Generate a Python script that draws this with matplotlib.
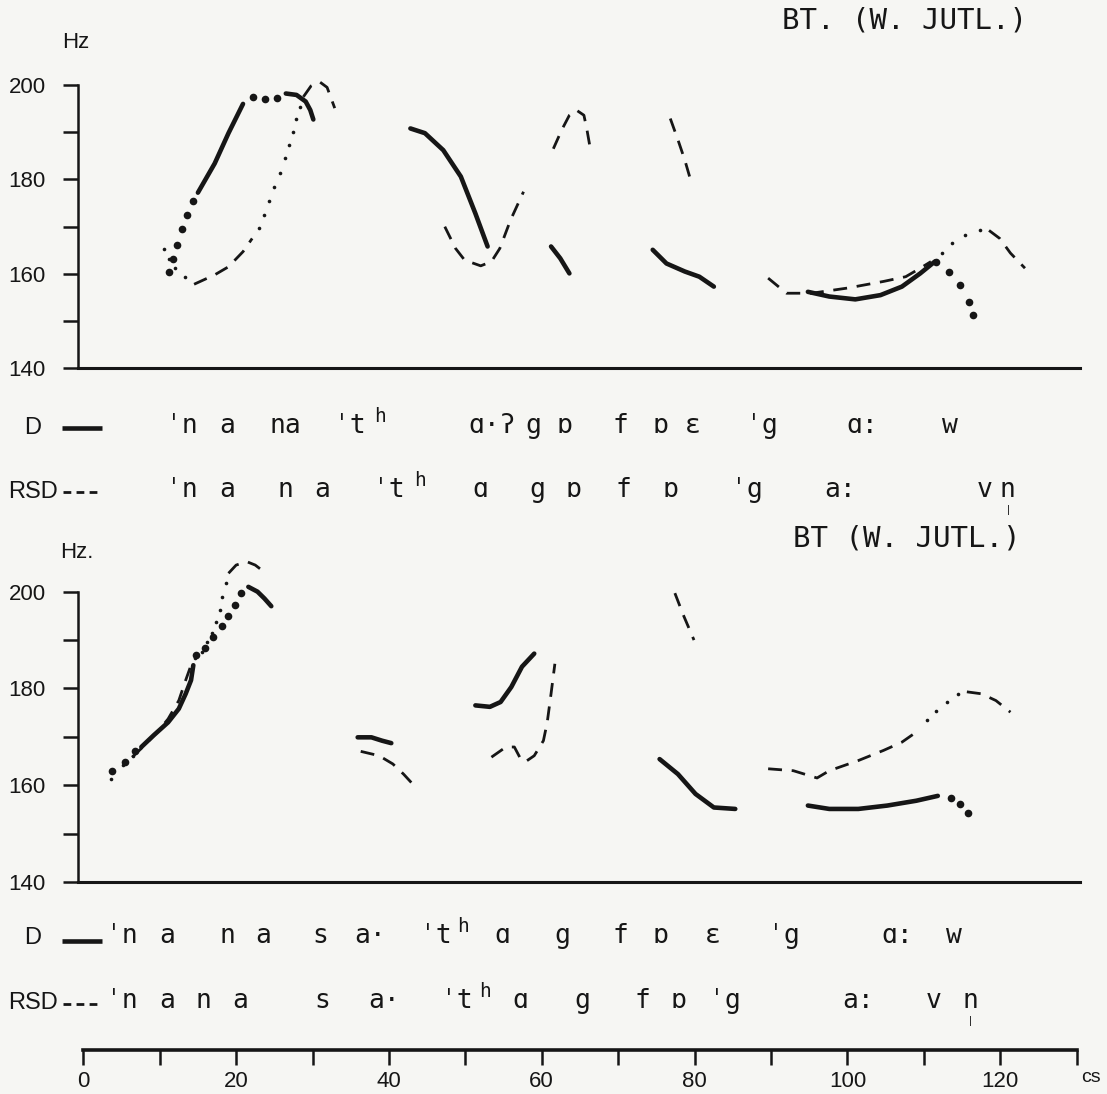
import matplotlib
matplotlib.use('Agg')
import matplotlib.pyplot as plt
from matplotlib.ticker import FixedLocator, FixedFormatter

plt.rcParams['font.family'] = ['Liberation Sans', 'DejaVu Sans']

# ---- F0 tracings, time in cs, F0 in Hz ----
# upper panel
up_d_solid = [
    ([15.0, 17.2, 19.0, 20.9], [177.2, 183.4, 189.8, 196.0]),
    ([26.5, 27.9, 29.1, 29.7, 30.1], [198.2, 197.9, 196.5, 194.7, 192.7]),
    ([42.8, 44.7, 47.1, 49.4, 51.3, 52.9], [190.8, 189.8, 186.2, 180.6, 172.8, 165.8]),
    ([61.2, 62.4, 63.6], [165.8, 163.3, 160.1]),
    ([74.5, 76.3, 78.7, 80.6, 82.5], [165.1, 162.2, 160.5, 159.4, 157.3]),
    ([94.8, 97.6, 101.0, 104.3, 107.1, 109.5, 111.4], [156.2, 155.2, 154.6, 155.5, 157.3, 160.1, 162.6]),
]
up_d_dots = [
    ([11.2, 11.8, 12.3, 12.9, 13.6, 14.4], [160.3, 163.2, 166.1, 169.6, 172.4, 175.4]),
    ([22.2, 23.8, 25.3], [197.4, 197.0, 197.3]),
    ([111.6, 113.3, 114.7, 115.9, 116.4], [162.6, 160.5, 157.7, 154.1, 151.3]),
]
up_r_dash = [
    ([14.5, 17.2, 19.0, 20.9, 22.1], [157.8, 159.8, 161.5, 164.7, 167.5]),
    ([28.8, 29.8, 30.9, 31.9, 32.9], [197.5, 199.8, 200.7, 199.5, 195.1]),
    ([47.3, 48.7, 49.9, 52.0, 53.4, 54.5, 55.9, 57.6], [170.0, 165.4, 162.9, 161.7, 162.6, 165.4, 171.4, 177.4]),
    ([61.5, 62.6, 63.6, 64.5, 65.5, 65.9, 66.4], [186.5, 190.5, 193.6, 194.7, 193.6, 190.5, 185.9]),
    ([76.8, 77.8, 78.7, 79.4], [192.9, 188.4, 184.1, 180.2]),
    ([89.6, 92.0, 95.3, 100.0, 104.7, 107.6, 109.5, 110.9], [159.1, 155.9, 155.9, 157.0, 158.4, 159.4, 161.2, 162.6]),
    ([118.5, 119.9, 121.3, 123.2], [169.2, 167.5, 164.4, 161.2]),
]
up_r_dots = [
    ([10.5, 11.2, 12.0, 13.3], [165.2, 163.2, 161.2, 159.4]),
    ([23.0, 23.7, 24.3, 25.0, 25.7, 26.4, 26.9, 27.4, 27.8, 28.4],
     [169.8, 172.5, 175.4, 178.3, 181.3, 184.5, 187.2, 190.0, 192.9, 195.4]),
    ([112.3, 113.7, 115.4, 117.3], [164.4, 166.6, 168.2, 169.2]),
]

# lower panel
lo_d_solid = [
    ([7.6, 9.2, 11.1, 12.5, 13.4, 14.1, 14.4], [167.9, 170.3, 173.0, 175.8, 178.9, 181.7, 184.8]),
    ([21.6, 22.8, 23.7, 24.6], [201.0, 200.0, 198.6, 197.0]),
    ([35.9, 37.7, 39.1, 40.3], [169.9, 169.9, 169.2, 168.7]),
    ([51.3, 53.2, 54.6, 56.0, 57.4, 59.0], [176.5, 176.2, 177.2, 180.3, 184.5, 187.2]),
    ([75.4, 77.8, 80.1, 82.5, 85.3], [165.4, 162.3, 158.2, 155.4, 155.1]),
    ([94.8, 97.6, 101.4, 105.2, 109.0, 111.8], [155.8, 155.1, 155.1, 155.8, 156.8, 157.8]),
]
lo_d_dots = [
    ([3.8, 5.5, 6.8], [163.0, 164.8, 167.0]),
    ([14.8, 15.9, 17.0, 18.1, 18.9, 19.9, 20.7], [186.9, 188.3, 190.7, 192.9, 195.0, 197.2, 199.7]),
    ([113.5, 114.7, 115.8], [157.4, 156.1, 154.2]),
]
lo_r_dash = [
    ([6.4, 7.8, 9.7, 11.1, 12.5, 13.4, 14.1], [165.8, 167.9, 171.0, 173.7, 177.5, 181.7, 184.8]),
    ([19.0, 20.0, 21.4, 22.5, 23.9], [203.8, 205.5, 206.2, 205.5, 203.8]),
    ([36.3, 38.7, 40.5, 41.9, 43.3], [167.0, 166.1, 164.4, 162.3, 159.9]),
    ([53.4, 55.3, 56.4, 57.1, 57.8, 59.0, 60.2, 60.7, 61.2, 61.7],
     [165.8, 167.9, 167.9, 165.8, 164.8, 166.1, 169.2, 173.0, 178.9, 185.1]),
    ([77.4, 78.5, 79.9], [199.7, 195.2, 190.0]),
    ([89.6, 92.9, 96.0, 97.6, 101.4, 104.7, 107.1, 109.0], [163.4, 163.0, 161.5, 163.0, 165.1, 167.2, 168.9, 171.0]),
    ([115.6, 117.5, 119.4, 121.3], [179.3, 178.9, 177.5, 175.1]),
]
lo_r_dots = [
    ([3.6, 5.2, 6.5], [161.3, 164.1, 166.1]),
    ([14.6, 15.5, 16.2, 16.9, 17.4, 17.9, 18.2, 18.7], [186.2, 187.6, 189.5, 191.4, 193.8, 196.2, 199.0, 201.7]),
    ([110.4, 111.6, 113.0, 114.4], [173.4, 175.3, 177.2, 178.8]),
]

hz_ticks = [140, 150, 160, 170, 180, 190, 200]
hz_labels = ['140', '', '160', '', '180', '', '200']
cs_ticks = list(range(0, 131, 10))
cs_labels = ['0', '', '20', '', '40', '', '60', '', '80', '', '100', '', '120', '']

# transcriptions (text, x pixel of the letter) per row; stress marks go with their letter
up_d_row = [('ˈn', 190), ('a', 227), ('na', 285), ('ˈt', 358), ('ɑ·ʔ', 492),
            ('g', 533), ('ɒ', 564), ('f', 620), ('ɒ', 660), ('ɛ', 693), ('ˈg', 770),
            ('ɑ:', 862), ('w', 950)]
up_r_row = [('ˈn', 190), ('a', 227), ('n', 285), ('a', 322), ('ˈt', 397),
            ('ɑ', 480), ('g', 537), ('ɒ', 573), ('f', 623), ('ɒ', 670), ('ˈg', 755),
            ('a:', 840), ('v', 985), ('n', 1007)]
lo_d_row = [('ˈn', 130), ('a', 167), ('n', 227), ('a', 263), ('s', 320), ('a·', 370),
            ('ˈt', 444), ('ɑ', 502), ('g', 562), ('f', 620), ('ɒ', 660), ('ɛ', 713),
            ('ˈg', 792), ('ɑ:', 897), ('w', 954)]
lo_r_row = [('ˈn', 130), ('a', 167), ('n', 203), ('a', 240), ('s', 322), ('a·', 384),
            ('ˈt', 465), ('ɑ', 520), ('g', 582), ('f', 642), ('ɒ', 678),
            ('ˈg', 733), ('a:', 858), ('v', 934), ('n', 970)]

W, H = 1107, 1094
INK = '#161616'
MONO = ['DejaVu Sans Mono', 'DejaVu Sans']
ADV = 7.8  # half the advance of one mono glyph at size 19, in px

fig = plt.figure(figsize=(W / 100, H / 100), dpi=100)
fig.patch.set_facecolor('#f6f6f3')


def box(x0, y0, x1, y1):
    # pixel box (top-left origin) to figure fraction rect
    return [x0 / W, 1 - y1 / H, (x1 - x0) / W, (y1 - y0) / H]


# overlay in pixel coordinates for the text
ov = fig.add_axes([0, 0, 1, 1])
ov.set_xlim(0, W)
ov.set_ylim(H, 0)
ov.axis('off')


def panel(rect, d_solid, d_dots, r_dash, r_dots):
    ax = fig.add_axes(rect)
    ax.patch.set_alpha(0)
    ax.set_xlim(-0.7, 130.4)
    ax.set_ylim(140, 210)
    ax.spines['top'].set_visible(False)
    ax.spines['right'].set_visible(False)
    ax.spines['left'].set_bounds(140, 200)
    ax.spines['left'].set_linewidth(1.8)
    ax.spines['bottom'].set_linewidth(2.2)
    ax.spines['left'].set_color(INK)
    ax.spines['bottom'].set_color(INK)
    ax.set_xticks([])
    ax.yaxis.set_major_locator(FixedLocator(hz_ticks))
    ax.yaxis.set_major_formatter(FixedFormatter(hz_labels))
    ax.tick_params(axis='y', direction='out', length=11, width=1.8, pad=12,
                   labelsize=16, colors=INK)
    for t, f in r_dash:
        ax.plot(t, f, color=INK, lw=2.0, dashes=(5, 3.5), dash_capstyle='butt')
    for t, f in r_dots:
        ax.plot(t, f, 'o', color=INK, ms=2.6, mew=0)
    for t, f in d_solid:
        ax.plot(t, f, '-', color=INK, lw=3.3, solid_capstyle='round', solid_joinstyle='round')
    for t, f in d_dots:
        ax.plot(t, f, 'o', color=INK, ms=5.5, mew=0)
    return ax


panel(box(77.9, 37.8, 1080, 368.3), up_d_solid, up_d_dots, up_r_dash, up_r_dots)
panel(box(77.9, 543.3, 1080, 882), lo_d_solid, lo_d_dots, lo_r_dash, lo_r_dots)

# time axis
tx = fig.add_axes(box(83.3, 1030, 1076.6, 1050))
tx.patch.set_alpha(0)
tx.set_xlim(0, 130)
for s in ['top', 'right', 'left']:
    tx.spines[s].set_visible(False)
tx.spines['bottom'].set_linewidth(2.6)
tx.spines['bottom'].set_color(INK)
tx.set_yticks([])
tx.xaxis.set_major_locator(FixedLocator(cs_ticks))
tx.xaxis.set_major_formatter(FixedFormatter(cs_labels))
tx.tick_params(axis='x', direction='out', length=11, width=1.8, pad=4, labelsize=16, colors=INK)

# titles and unit labels
ov.text(904, 20, 'BT. (W. JUTL.)', family=MONO, fontsize=21, color=INK, ha='center', va='center')
ov.text(907, 539, 'BT (W. JUTL.)', family=MONO, fontsize=21, color=INK, ha='center', va='center')
ov.text(76, 43, 'Hz', fontsize=16, color=INK, ha='center', va='center')
ov.text(77, 553, 'Hz.', fontsize=16, color=INK, ha='center', va='center')
ov.text(1091, 1078, 'cs', fontsize=14, color=INK, ha='center', va='center')


def row(tokens, base, sup_x):
    for s, x in tokens:
        if s.startswith('ˈ'):
            x = x - ADV
        ov.text(x, base, s, family=MONO, fontsize=19, color=INK, ha='center', va='baseline')
    ov.text(sup_x, base - 11, 'h', family=MONO, fontsize=14, color=INK, ha='center', va='baseline')


row(up_d_row, 433, 380)
row(up_r_row, 497, 420)
row(lo_d_row, 943, 463)
row(lo_r_row, 1008, 485)

# syllabic marks under the final n
ov.text(1008, 505, '|', fontsize=8, color=INK, ha='center', va='top')
ov.text(970, 1016, '|', fontsize=8, color=INK, ha='center', va='top')

# legend keys
for y_txt, y_key, name, style in [(434, 428, 'D', 'solid'), (498, 492, 'RSD', 'dash'),
                                   (944, 941, 'D', 'solid'), (1009, 1004, 'RSD', 'dash')]:
    ov.text(33, y_txt, name, fontsize=17, color=INK, ha='center', va='baseline')
    if style == 'solid':
        ov.plot([62, 102], [y_key, y_key], color=INK, lw=3.3, solid_capstyle='butt')
    else:
        ov.plot([63, 100], [y_key, y_key], color=INK, lw=2.0, dashes=(2.8, 1.9))

fig.savefig('out.png', dpi=100, facecolor=fig.get_facecolor())
